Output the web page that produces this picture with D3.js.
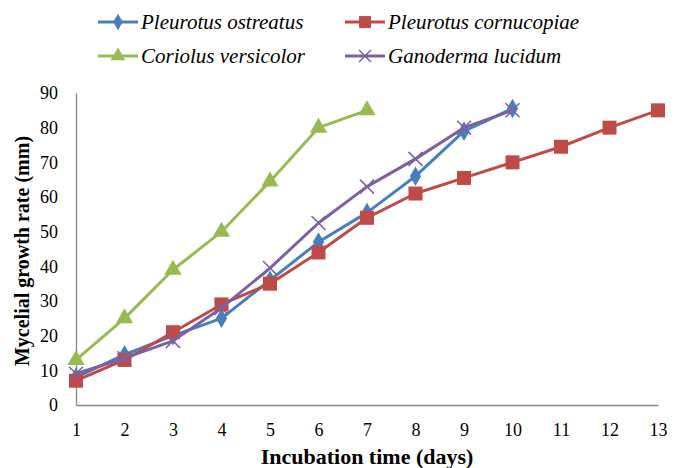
<!DOCTYPE html>
<html>
<head>
<meta charset="utf-8">
<script src="https://cdn.jsdelivr.net/npm/d3@7"></script>
<style>
  body { margin: 0; background: #fff; }
  text { font-family: "Liberation Serif", "Times New Roman", serif; }
</style>
</head>
<body>
<div id="chart"></div>
<script>
// data
let days = [1, 2, 3, 4, 5, 6, 7, 8, 9, 10, 11, 12, 13];
let yTicks = [0, 10, 20, 30, 40, 50, 60, 70, 80, 90];
let ostreatus = [8, 14.5, 20, 25, 36, 47, 55.5, 66, 79, 85.5];
let cornucopiae = [7, 13, 21, 29, 35, 44, 54, 61, 65.5, 70, 74.5, 80, 85];
let versicolor = [13, 25, 39, 50, 64.5, 80, 85];
let lucidum = [9, 13.5, 18.5, 28, 39.5, 52.5, 63, 71, 80, 85];

let series = [
    { name: "Pleurotus ostreatus", values: ostreatus, color: "#4A7EBB", marker: "diamond" },
    { name: "Pleurotus cornucopiae", values: cornucopiae, color: "#BE4B48", marker: "square" },
    { name: "Coriolus versicolor", values: versicolor, color: "#98B954", marker: "triangle" },
    { name: "Ganoderma lucidum", values: lucidum, color: "#7D60A0", marker: "cross" }
];

let width = 679, height = 468;
let svg = d3.select("#chart").append("svg")
    .attr("width", width)
    .attr("height", height);

let x = d3.scaleLinear().domain([1, 13]).range([76, 658]);
let y = d3.scaleLinear().domain([0, 90]).range([405, 93]);

// axes
let xAxis = svg.append("g")
    .attr("transform", "translate(0," + y(0) + ")")
    .call(d3.axisBottom(x).tickValues(days).tickSize(0).tickPadding(18));
xAxis.select(".domain").attr("stroke", "#868686").attr("stroke-width", 1.3);
xAxis.selectAll("text").attr("font-size", 18).attr("fill", "#000")
    .attr("font-family", "Liberation Serif");

let yAxis = svg.append("g")
    .attr("transform", "translate(" + x(1) + ",0)")
    .call(d3.axisLeft(y).tickValues(yTicks).tickSize(0).tickPadding(18));
yAxis.select(".domain").attr("stroke", "#868686").attr("stroke-width", 1.3);
yAxis.selectAll("text").attr("font-size", 18).attr("fill", "#000")
    .attr("font-family", "Liberation Serif");

// axis titles
svg.append("text")
    .text("Incubation time (days)")
    .attr("x", 367)
    .attr("y", 464)
    .attr("text-anchor", "middle")
    .attr("font-size", 22)
    .attr("font-weight", "bold");

svg.append("text")
    .text("Mycelial growth rate (mm)")
    .attr("transform", "translate(29,251) rotate(-90)")
    .attr("text-anchor", "middle")
    .attr("font-size", 20)
    .attr("font-weight", "bold");

let line = d3.line()
    .x((d, i) => x(days[i]))
    .y(d => y(d));

function drawMarker(g, type, color, cx, cy, k) {
    k = k || 1;
    if (type == "diamond") {
        g.append("path")
            .attr("d", d3.symbol(d3.symbolDiamond, 110 * k * k)())
            .attr("transform", "translate(" + cx + "," + cy + ")")
            .attr("fill", color);
    } else if (type == "square") {
        let h = 7 * k;
        g.append("rect")
            .attr("x", cx - h).attr("y", cy - h)
            .attr("width", 2 * h).attr("height", 2 * h)
            .attr("fill", color);
    } else if (type == "triangle") {
        g.append("path")
            .attr("d", d3.symbol(d3.symbolTriangle, 130 * k * k)())
            .attr("transform", "translate(" + cx + "," + cy + ")")
            .attr("fill", color);
    } else {
        let h = 7 * k;
        g.append("path")
            .attr("d", "M" + (cx - h) + "," + (cy - h) + "L" + (cx + h) + "," + (cy + h) +
                "M" + (cx - h) + "," + (cy + h) + "L" + (cx + h) + "," + (cy - h))
            .attr("stroke", color)
            .attr("stroke-width", 1.5);
    }
}

// draw order like excel: first series at the back
series.forEach(s => {
    let g = svg.append("g");
    g.append("path")
        .datum(s.values)
        .attr("d", line)
        .attr("fill", "none")
        .attr("stroke", s.color)
        .attr("stroke-width", 3)
        .attr("stroke-linejoin", "round");
    s.values.forEach((v, i) => drawMarker(g, s.marker, s.color, x(days[i]), y(v)));
});

// legend
let legendPos = [[98, 22], [345, 22], [98, 56], [345, 56]];
series.forEach((s, i) => {
    let lx = legendPos[i][0], ly = legendPos[i][1];
    let g = svg.append("g");
    g.append("line")
        .attr("x1", lx).attr("x2", lx + 40)
        .attr("y1", ly).attr("y2", ly)
        .attr("stroke", s.color)
        .attr("stroke-width", 3);
    drawMarker(g, s.marker, s.color, lx + 20, ly, 0.85);
    g.append("text")
        .text(s.name)
        .attr("x", lx + 43)
        .attr("y", ly + 7)
        .attr("font-size", 21)
        .attr("font-style", "italic");
});
</script>
</body>
</html>
